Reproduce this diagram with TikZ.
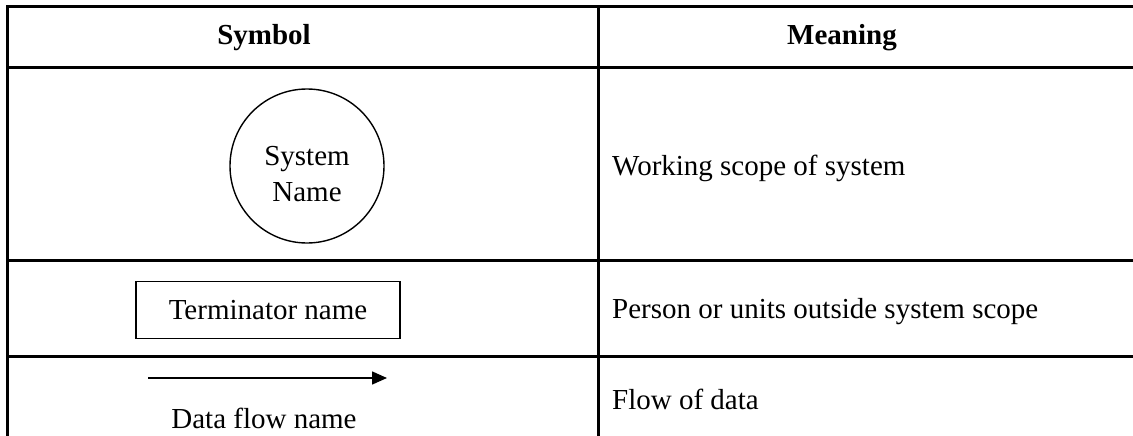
\documentclass[tikz,border=0pt]{standalone}
\usepackage{fontspec}
\setmainfont{Liberation Serif}
\usetikzlibrary{arrows.meta}
\begin{document}
\begin{tikzpicture}[x=1pt,y=-1pt,
  rule/.style={line width=3pt},
  sym/.style={draw, line width=1.4pt},
  txt/.style={font=\fontsize{29}{36}\selectfont, inner sep=0pt},
  hdr/.style={font=\fontsize{29}{33}\selectfont\bfseries, inner sep=0pt},
  mean/.style={txt, anchor=west}]
\useasboundingbox (0,0) rectangle (1133,436);
% table rules
\draw[rule] (1133,7) -- (7,7) -- (7,436);
\draw[rule] (598,7) -- (598,436);
\draw[rule] (7,68) -- (1133,68);
\draw[rule] (7,260) -- (1133,260);
\draw[rule] (7,356) -- (1133,356);
% headers
\node[hdr] (hs) at (264,38) {Symbol};
\node[hdr] (hm) at (842,38) {Meaning};
% row 1
\node[sym, circle, minimum size=154pt] (sys) at (307,166) {};
\node[txt, align=center] (sysname) at (307,174) {System\\Name};
\node[mean] (m1) at (612,168) {Working scope of system};
% row 2
\node[sym, txt, minimum width=264pt, minimum height=57pt] (term) at (268,310) {Terminator name};
\node[mean] (m2) at (612,312) {Person or units outside system scope};
% row 3
\coordinate (a1) at (148,378);
\coordinate (a2) at (387,378);
\draw[line width=1.6pt, -{Triangle[length=15pt,width=13pt]}] (a1) -- (a2);
\node[txt] (df) at (264,418) {Data flow name};
\node[mean] (m3) at (612,399) {Flow of data};
\end{tikzpicture}
\end{document}
